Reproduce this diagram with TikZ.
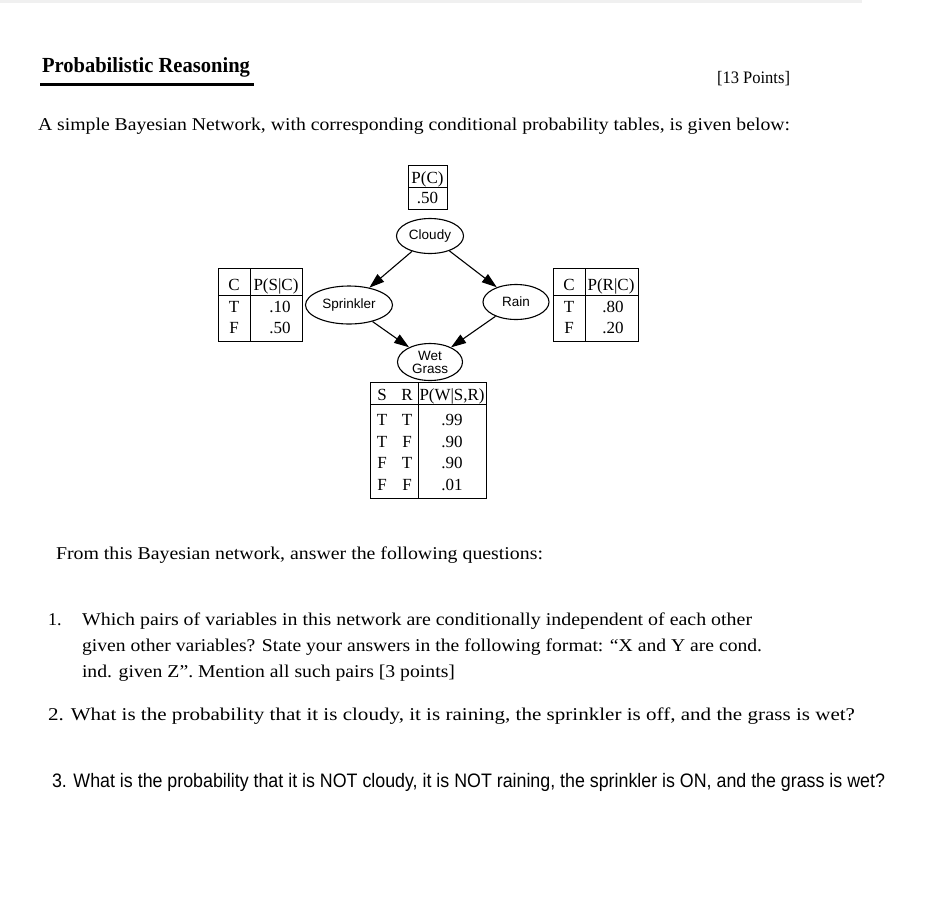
\documentclass[tikz,border=0pt]{standalone}
\usepackage{fontspec}
\setmainfont{Liberation Serif}
\newfontfamily\arialf{Liberation Sans}
\usetikzlibrary{arrows.meta,shapes.geometric}
\newcommand\fitw[2]{\resizebox{#1}{\height}{#2}}
\begin{document}
\begin{tikzpicture}[x=1pt,y=-1pt,
  txt/.style={anchor=base west,inner sep=0,outer sep=0},
  body/.style={txt,font=\fontsize{18}{20}\selectfont},
  tb/.style={anchor=base,inner sep=0,outer sep=0,font=\fontsize{17}{17}\selectfont},
  bn/.style={ellipse,draw,line width=1.1pt,inner sep=0,font=\arialf\fontsize{13.5}{13.5}\selectfont,align=center},
  arr/.style={-{Triangle[length=15pt,width=10pt]},line width=1.1pt},
  grid/.style={line width=1pt}]
\useasboundingbox (0,0) rectangle (928,916);
\fill[white] (0,0) rectangle (928,916);
\fill[gray!12] (0,0) rectangle (862,3);

% header
\node[txt,font=\bfseries\fontsize{21.5}{21.5}\selectfont] (title) at (42,72) {\fitw{208pt}{Probabilistic Reasoning}};
\draw[line width=3pt] (40,84) -- (254,84);
\node[txt,font=\fontsize{17.5}{17.5}\selectfont] (pts) at (717,83) {\fitw{73pt}{[13 Points]}};
\node[body] (intro) at (38,130) {\fitw{752pt}{A simple Bayesian Network, with corresponding conditional probability tables, is given below:}};

% network nodes
\node[bn,minimum width=67pt,minimum height=35pt] (cloudy) at (430,236) {Cloudy};
\node[bn,minimum width=87pt,minimum height=38pt] (spr) at (349,305) {Sprinkler};
\node[bn,minimum width=66pt,minimum height=35pt] (rain) at (516,302) {Rain};
\node[bn,minimum width=65pt,minimum height=37pt,font=\arialf\fontsize{13.5}{13}\selectfont] (wet) at (430,362) {Wet\\Grass};

\draw[arr] (cloudy) -- (spr);
\draw[arr] (cloudy) -- (rain);
\draw[arr] (spr) -- (wet);
\draw[arr] (rain) -- (wet);

% P(C) table
\draw[grid] (408,165) rectangle (447,209);
\draw[grid] (408,187) -- (447,187);
\node[tb] (pc) at (427.5,183) {P(C)};
\node[tb] (pcv) at (427.5,203) {.50};

% P(S|C) table
\draw[grid] (218,268) rectangle (302,341);
\draw[grid] (250,268) -- (250,341);
\draw[grid] (218,295) -- (302,295);
\node[tb] (sc1) at (234,290) {C};
\node[tb] (sc2) at (276,290) {P(S|C)};
\node[tb] (sc3) at (234,312) {T};
\node[tb] (sc4) at (280,312) {.10};
\node[tb] (sc5) at (234,333) {F};
\node[tb] (sc6) at (280,333) {.50};

% P(R|C) table
\draw[grid] (553,268) rectangle (638,341);
\draw[grid] (585,268) -- (585,341);
\draw[grid] (553,295) -- (638,295);
\node[tb] (rc1) at (569,290) {C};
\node[tb] (rc2) at (611,290) {P(R|C)};
\node[tb] (rc3) at (569,312) {T};
\node[tb] (rc4) at (613,312) {.80};
\node[tb] (rc5) at (569,333) {F};
\node[tb] (rc6) at (613,333) {.20};

% P(W|S,R) table
\draw[grid] (370,382) rectangle (486,498);
\draw[grid] (418,382) -- (418,498);
\draw[grid] (370,404) -- (486,404);
\node[tb] (w1) at (382,400) {S};
\node[tb] (w2) at (407,400) {R};
\node[tb] (w3) at (452,400) {\fitw{65pt}{P(W|S,R)}};
\node[tb] (w4) at (382,425) {T};
\node[tb] (w5) at (407,425) {T};
\node[tb] (w6) at (452,425) {.99};
\node[tb] (w7) at (382,447) {T};
\node[tb] (w8) at (407,447) {F};
\node[tb] (w9) at (452,447) {.90};
\node[tb] (w10) at (382,468) {F};
\node[tb] (w11) at (407,468) {T};
\node[tb] (w12) at (452,468) {.90};
\node[tb] (w13) at (382,490) {F};
\node[tb] (w14) at (407,490) {F};
\node[tb] (w15) at (452,490) {.01};

% questions
\node[body] (from) at (56,559) {\fitw{487pt}{From this Bayesian network, answer the following questions:}};
\node[body] (q1n) at (48,625) {1.};
\node[body] (q1a) at (82,625) {\fitw{670pt}{Which pairs of variables in this network are conditionally independent of each other}};
\node[body] (q1b) at (82,651) {\fitw{680pt}{given other variables? State your answers in the following format: “X and Y are cond.}};
\node[body] (q1c) at (82,677) {\fitw{373pt}{ind. given Z”. Mention all such pairs [3 points]}};
\node[body] (q2) at (48,720) {\fitw{807pt}{2. What is the probability that it is cloudy, it is raining, the sprinkler is off, and the grass is wet?}};
\node[txt,font=\arialf\fontsize{19.5}{22}\selectfont] (q3) at (52,787) {\fitw{833pt}{3. What is the probability that it is NOT cloudy, it is NOT raining, the sprinkler is ON, and the grass is wet?}};
\end{tikzpicture}
\end{document}
